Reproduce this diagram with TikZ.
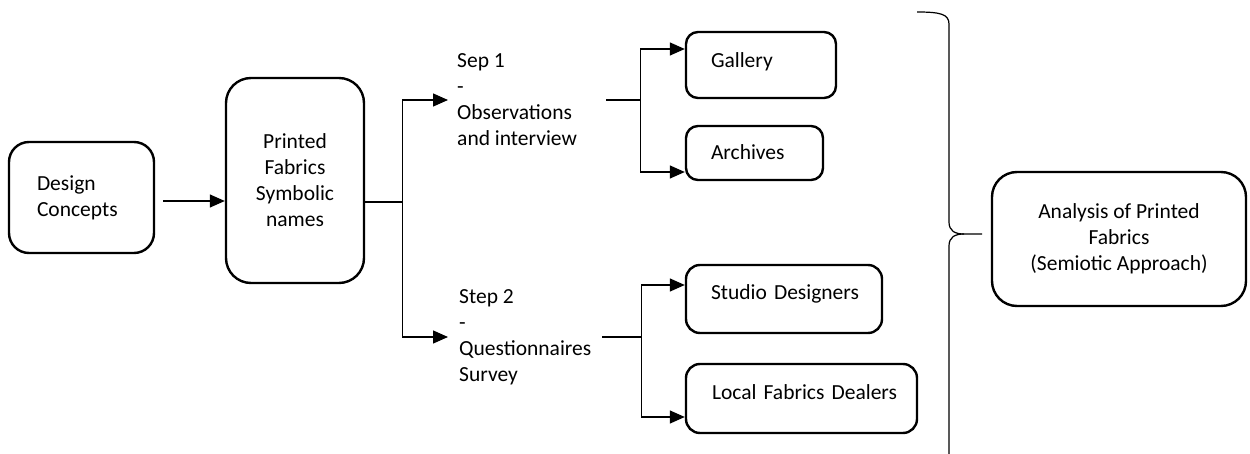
\documentclass[tikz,border=0pt]{standalone}
\usepackage{fontspec}
\setmainfont{Carlito}
\usetikzlibrary{arrows.meta,calc}
\begin{document}
\begin{tikzpicture}[x=1pt,y=-1pt,
  every node/.style={font=\fontsize{21.5}{26}\selectfont},
  box/.style={draw, line width=2.4pt, inner sep=0pt},
  lift/.style={text height=15pt, text depth=5pt+2*#1},
  conn/.style={line width=1.3pt},
  arr/.style={line width=1.3pt, -{Triangle[length=15pt,width=13pt]}},
  stepnode/.style={inner sep=0pt, align=left, anchor=west}]
\useasboundingbox (0,0) rectangle (1250,454);

% boxes
\node[box, rounded corners=20pt, minimum width=145pt, minimum height=111pt,
  inner xsep=28pt, text width=89pt, align=left]
  (design) at (81.5,197.5) {Design\\Concepts};
\node[box, rounded corners=25pt, minimum width=138pt, minimum height=205pt, align=center]
  (printed) at (295,180.5) {Printed\\Fabrics\\Symbolic\\names};
\node[stepnode] (step1) at (457,100) {Sep 1\\-\\Observations\\and interview};
\node[stepnode] (step2) at (459,337) {Step 2\\-\\Questionnaires\\Survey};

\node[box, rounded corners=12pt, minimum width=150pt, minimum height=66pt,
  inner xsep=25pt, text width=100pt, align=left, lift=2pt] (gallery) at (761,65) {\mbox{Gallery}};
\node[box, rounded corners=12pt, minimum width=137pt, minimum height=54pt,
  inner xsep=25pt, text width=87pt, align=left, lift=-2pt] (archives) at (754.5,153) {\mbox{Archives}};
\node[box, rounded corners=14pt, minimum width=196pt, minimum height=68pt,
  inner xsep=25pt, text width=146pt, align=left, lift=4pt] (studio) at (784,299) {\mbox{Studio Designers}};
\node[box, rounded corners=14pt, minimum width=231pt, minimum height=69pt,
  inner xsep=26pt, text width=179pt, align=left, lift=4.5pt] (local) at (801.5,398.5) {\mbox{Local Fabrics Dealers}};

\node[box, rounded corners=25pt, minimum width=254pt, minimum height=134pt, align=center]
  (analysis) at (1119,239) {Analysis of Printed\\Fabrics\\(Semiotic Approach)};

% connectors
\draw[arr] ($(design.east)+(8,3.5)$) coordinate (d1) -- (printed.west |- d1);

\draw[conn] ($(printed.east)+(0,21.5)$) -- ++(37,0) coordinate (bA);
\draw[arr] (bA) |- ([xshift=-9pt]step1.west);
\draw[arr] (bA) |- ([xshift=-11pt]step2.west);

\coordinate (g1) at (0,49);
\coordinate (a1) at (0,172);
\draw[conn] ([xshift=29pt]step1.east) -- ++(34,0) coordinate (bB);
\draw[arr] (bB) |- (gallery.west |- g1);
\draw[arr] (bB) |- (archives.west |- a1);

\coordinate (s1) at (0,285);
\coordinate (l1) at (0,417);
\draw[conn] ([xshift=11pt]step2.east) -- ++(39,0) coordinate (bC);
\draw[arr] (bC) |- (studio.west |- s1);
\draw[arr] (bC) |- (local.west |- l1);

% brace
\draw[line width=1.2pt] (917,12) .. controls (940,12) and (949,14) .. (949,24)
  -- (949,222) .. controls (949,231) and (955,234) .. (964,234) -- (982,234);
\draw[line width=1.2pt] (964,234) .. controls (955,234) and (949,237) .. (949,246) -- (949,456);
\end{tikzpicture}
\end{document}
